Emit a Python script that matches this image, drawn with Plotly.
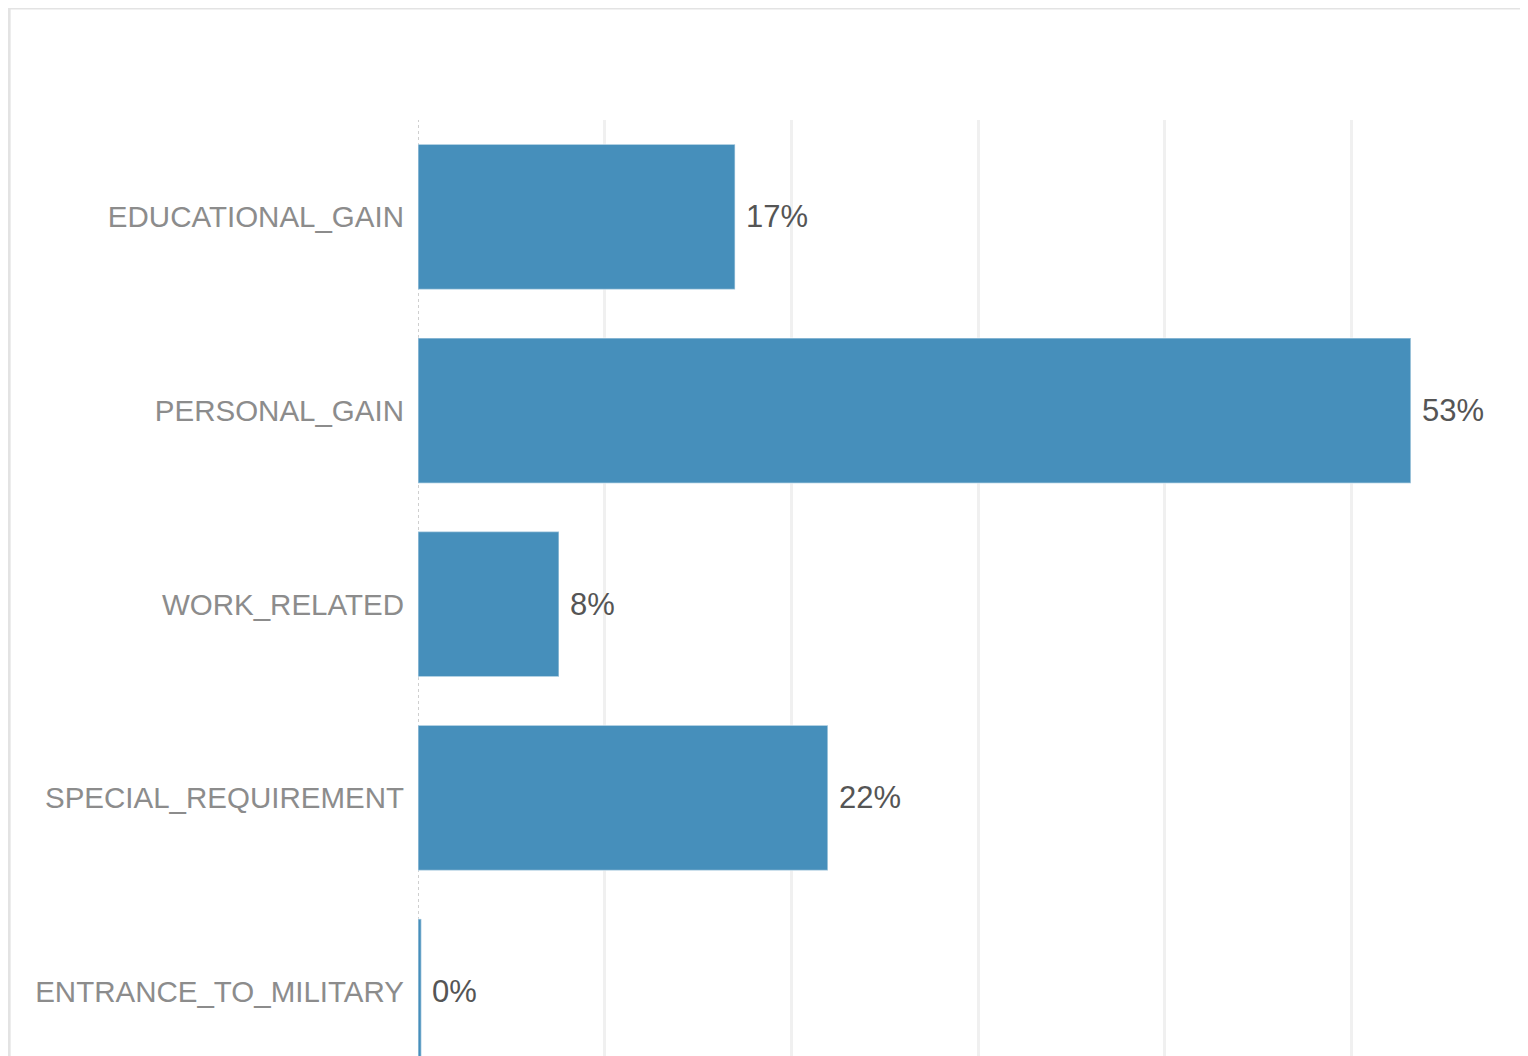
import plotly.graph_objects as go

categories = ["EDUCATIONAL_GAIN", "PERSONAL_GAIN", "WORK_RELATED",
              "SPECIAL_REQUIREMENT", "ENTRANCE_TO_MILITARY"]
shares = [0.1698, 0.5317, 0.0755, 0.2195, 0.0018]
grid_ticks = [0.1, 0.2, 0.3, 0.4, 0.5]

BAR = "#468fbb"
FONT = "Liberation Sans, Arial, sans-serif"

fig = go.Figure()
fig.add_trace(go.Bar(
    x=shares, y=categories, orientation="h",
    marker=dict(color=BAR, line=dict(color="rgba(255,255,255,0.45)", width=1.5)),
    width=0.75, hoverinfo="skip",
))

for c, v in zip(categories, shares):
    fig.add_annotation(x=v, y=c, xref="x", yref="y", text=f"{v:.0%}",
                       showarrow=False, xanchor="left", xshift=9,
                       font=dict(family=FONT, size=31, color="#555555"))

# dotted zero line
fig.add_shape(type="line", xref="x", yref="paper", x0=0, x1=0, y0=0, y1=1,
              line=dict(color="#cfcfcf", width=2, dash="dot"), layer="below")

# outer frame (top and left edges visible)
fig.add_shape(type="line", xref="paper", yref="paper", x0=-0.3657, x1=1.05,
              y0=1.1187, y1=1.1187, line=dict(color="#e3e3e3", width=3))
fig.add_shape(type="line", xref="paper", yref="paper", x0=-0.3657, x1=-0.3657,
              y0=-0.05, y1=1.1187, line=dict(color="#e3e3e3", width=3))

fig.update_layout(
    width=1528, height=1056,
    margin=dict(l=410, r=0, t=112, b=0),
    paper_bgcolor="white", plot_bgcolor="white",
    showlegend=False,
    font=dict(family=FONT),
    xaxis=dict(range=[0, 0.5987], tickmode="array", tickvals=grid_ticks,
               showticklabels=False, showgrid=True, gridcolor="#f0f0f0",
               gridwidth=3, zeroline=False, showline=False, fixedrange=True),
    yaxis=dict(categoryorder="array", categoryarray=categories,
               range=[4.374, -0.5], showgrid=False, zeroline=False,
               showline=False, ticks="", ticklabelstandoff=13,
               tickfont=dict(family=FONT, size=29.5, color="#8c8c8c")),
)

fig.write_html("out.html")
